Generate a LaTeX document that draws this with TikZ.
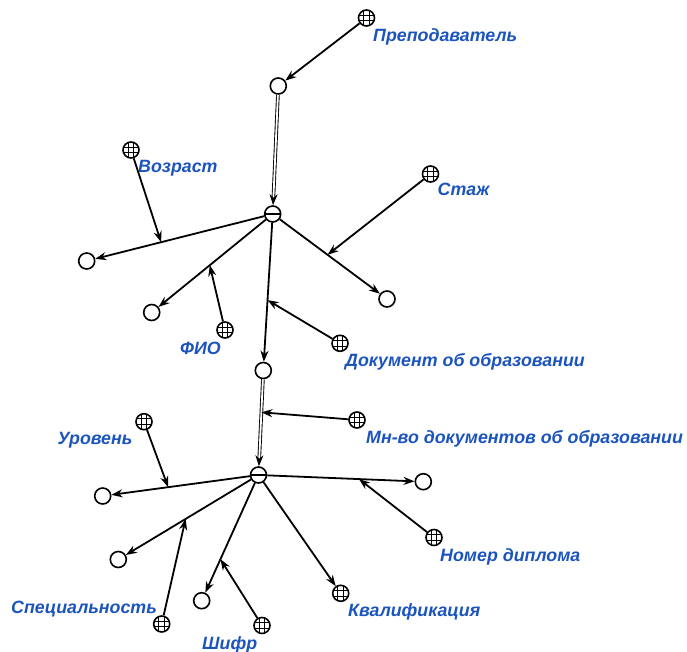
\documentclass[tikz,border=0pt]{standalone}
\usepackage{fontspec}
\setmainfont{Liberation Sans}
\usetikzlibrary{arrows.meta,calc}
\definecolor{lblue}{RGB}{28,84,190}
\begin{document}
\begin{tikzpicture}[x=1pt,y=-1pt,
  circ/.style={circle,draw,line width=1.6pt,minimum size=16pt,inner sep=0pt,fill=white},
  gridn/.style={circ,path picture={
      \foreach \d in {-2.8,2.8}{
        \draw[line width=0.9pt] ([xshift=\d pt]path picture bounding box.north) -- ([xshift=\d pt]path picture bounding box.south);
        \draw[line width=0.9pt] ([yshift=\d pt]path picture bounding box.west) -- ([yshift=\d pt]path picture bounding box.east);
      }}},
  minusn/.style={circ,path picture={
        \draw[line width=1.6pt] (path picture bounding box.west) -- (path picture bounding box.east);}},
  arr/.style={line width=1.8pt,-{Stealth[length=11pt,width=8pt,inset=3.5pt]}},
  dbl/.style={double,double distance=1.8pt,line width=0.9pt,-{Stealth[length=11pt,width=8pt,inset=3.5pt]}},
  lbl/.style={anchor=base west,inner sep=0pt,text=lblue,font=\bfseries\itshape\fontsize{17.8}{20}\selectfont}
]
\useasboundingbox (0,0) rectangle (687,652);

% nodes
\node[gridn] (gP) at (366.5,18) {};
\node[circ] (A) at (278.3,86) {};
\node[minusn] (M1) at (272.7,214) {};
\node[gridn] (gV) at (131,150) {};
\node[gridn] (gS) at (430.5,174) {};
\node[circ] (C1) at (86.7,261) {};
\node[circ] (C2) at (151.7,312.5) {};
\node[circ] (C3) at (387,299) {};
\node[gridn] (gF) at (225,330) {};
\node[gridn] (gD) at (340,343.3) {};
\node[circ] (B) at (263.3,370.5) {};
\node[gridn] (gM) at (357,420) {};
\node[minusn] (M2) at (258.5,475) {};
\node[gridn] (gU) at (144,421.7) {};
\node[circ] (C4) at (102.7,496) {};
\node[circ] (C5) at (423.3,481.7) {};
\node[circ] (C6) at (118.3,559.5) {};
\node[gridn] (gN) at (434,537.5) {};
\node[circ] (C7) at (201.7,600.7) {};
\node[gridn] (gK) at (340.7,593.3) {};
\node[gridn] (gSp) at (161.7,624) {};
\node[gridn] (gSh) at (262,625.5) {};

% labels
\node[lbl] (tP) at (373,42) {Преподаватель};
\node[lbl] (tV) at (138,173) {Возраст};
\node[lbl] (tS) at (437.5,196) {Стаж};
\node[lbl] (tF) at (180,354) {ФИО};
\node[lbl] (tD) at (345,366) {Документ об образовании};
\node[lbl] (tM) at (366,443) {Мн-во документов об образовании};
\node[lbl] (tU) at (57.3,444.5) {Уровень};
\node[lbl] (tN) at (440,561) {Номер диплома};
\node[lbl] (tK) at (348,616) {Квалификация};
\node[lbl] (tSp) at (11,613.5) {Специальность};
\node[lbl] (tSh) at (202,649) {Шифр};

% points on edges
\coordinate (e1) at ($(M1)!0.6!(C1)$);
\coordinate (e2) at ($(M1)!0.52!(C2)$);
\coordinate (e3) at ($(M1)!0.48!(C3)$);
\coordinate (e4) at ($(M1)!0.55!(B)$);
\coordinate (e5) at ($(B)!0.4!(M2)$);
\coordinate (e6) at ($(M2)!0.58!(C4)$);
\coordinate (e7) at ($(M2)!0.61!(C5)$);
\coordinate (e8) at ($(M2)!0.52!(C6)$);
\coordinate (e9) at ($(M2)!0.67!(C7)$);

% edges
\draw[arr] (gP) -- (A);
\draw[dbl] (A) -- (M1);
\draw[arr] (M1) -- (C1);
\draw[arr] (M1) -- (C2);
\draw[arr] (M1) -- (C3);
\draw[arr] (M1) -- (B);
\draw[dbl] (B) -- (M2);
\draw[arr] (M2) -- (C4);
\draw[arr] (M2) -- (C5);
\draw[arr] (M2) -- (C6);
\draw[arr] (M2) -- (C7);
\draw[arr] (M2) -- (gK);

\draw[arr] (gV) -- (e1);
\draw[arr] (gF) -- (e2);
\draw[arr] (gS) -- (e3);
\draw[arr] (gD) -- (e4);
\draw[arr] (gM) -- (e5);
\draw[arr] (gU) -- (e6);
\draw[arr] (gN) -- (e7);
\draw[arr] (gSp) -- (e8);
\draw[arr] (gSh) -- (e9);
\end{tikzpicture}
\end{document}
